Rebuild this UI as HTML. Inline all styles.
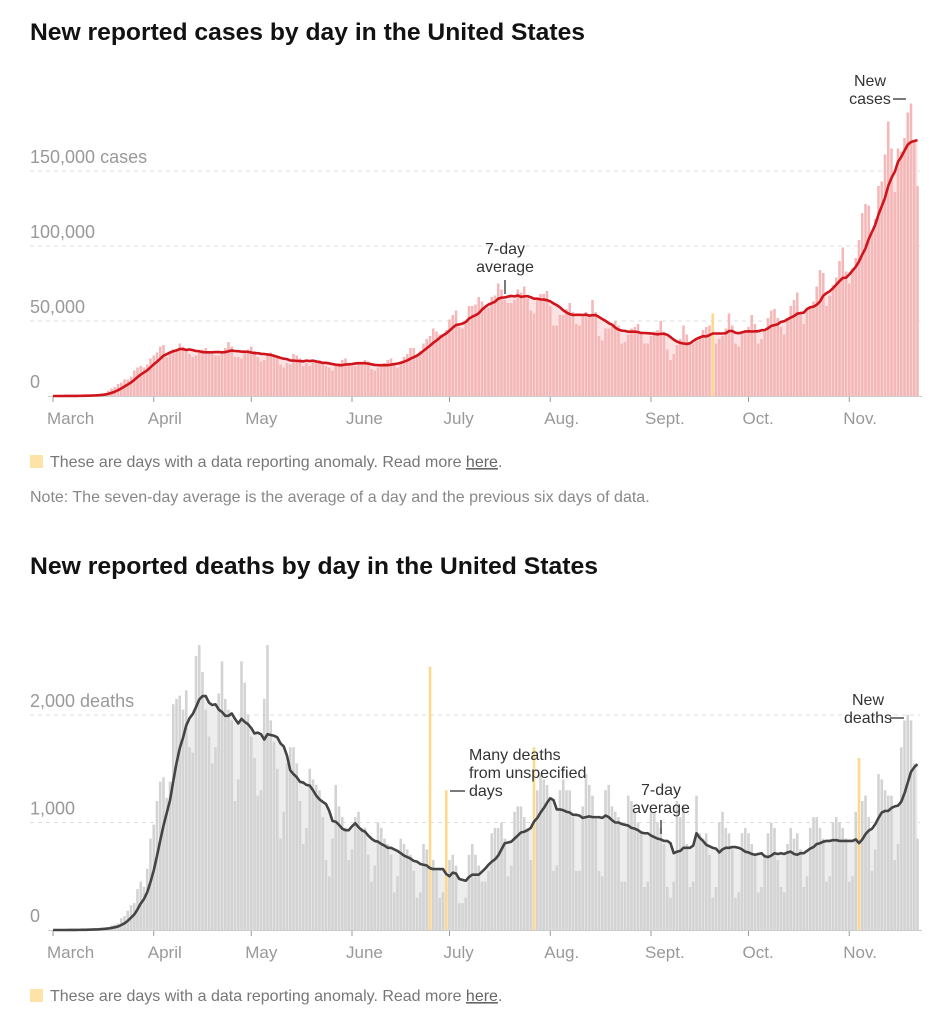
<!DOCTYPE html>
<html><head><meta charset="utf-8">
<style>
html,body{margin:0;padding:0;background:#fff;}
svg{display:block;font-family:"Liberation Sans",sans-serif;}
</style></head>
<body>
<svg id="root" width="935" height="1024" viewBox="0 0 935 1024"></svg>
<script>
// ---- shared axis data ----
const monthNames = ["March","April","May","June","July","Aug.","Sept.","Oct.","Nov."];
const monthStartDays = [0,31,61,92,122,153,184,214,245];

// ---- cases chart data (thousands), day 0 = Mar 1 ----
const caseDaily = [
0,0,0,0,0.1,0.1,0.1,
0.1,0.2,0.3,0.4,0.5,0.6,0.8,
1,1.5,2,3.5,5,6,8,
9,11,11,13,17,19,20,
19,21,25,27,29,33,34,
26,29,31,31,35,33,30,
28,26,27,30,31,32,30,
28,27,27,29,32,36,33,
26,26,25,29,31,33,30,
26,23,24,27,29,28,26,
21,19,22,21,28,27,25,
20,22,20,23,24,24,22,
20,19,17,20,22,24,25,
21,20,20,21,22,24,23,
18,17,19,21,22,24,25,
21,19,23,26,28,32,32,
28,30,35,38,40,45,43,
41,41,44,51,54,57,46,
45,48,60,60,61,66,63,
58,59,66,67,75,71,64,
62,62,64,71,69,73,65,
57,55,64,68,68,70,60,
47,47,54,54,58,62,56,
48,47,53,56,53,64,56,
40,37,45,45,46,50,47,
35,36,41,45,46,48,43,
35,35,40,43,44,50,43,
31,24,28,34,38,47,41,
34,35,38,40,44,46,47,
55,35,38,40,45,55,47,
35,33,42,44,46,54,48,
35,38,43,52,57,58,52,
46,41,52,60,64,69,55,
48,58,60,63,73,84,82,
60,67,74,79,90,99,83,
75,85,92,104,122,128,127,
108,118,140,143,161,183,165,
136,165,163,172,189,195,170,
140];
const caseAnomalyDays = [203];
const caseTicks = [0,50,100,150];
const caseTickLabels = ["0","50,000","100,000","150,000 cases"];

// ---- deaths chart data ----
const deathDaily = [
0,0,0,0,0,1,1,
2,4,3,4,5,8,11,
10,18,22,25,40,50,60,
110,130,180,230,250,380,450,
400,570,850,980,1200,1380,1420,
1230,1380,2100,2150,2180,2050,2230,
1700,1650,2550,2650,2400,2050,1800,
1550,1700,2200,2500,2150,2050,1950,
1200,1400,2500,2300,2000,1800,1600,
1250,1300,2150,2650,1950,1750,1500,
850,1100,1550,1700,1700,1550,1200,
800,950,1500,1400,1350,1300,1050,
650,500,850,1350,1150,1050,950,
650,750,1050,1100,950,950,700,
450,600,1000,950,850,800,700,
350,500,850,800,750,700,550,
300,350,800,750,2450,650,550,
300,350,1300,650,700,600,250,
250,300,700,800,700,600,450,
450,550,900,950,950,1000,850,
500,600,1100,1150,1150,1050,950,
650,1700,1300,1450,1400,1350,1200,
550,600,1300,1400,1300,1300,1050,
550,550,1150,1450,1350,1250,1050,
550,500,1300,1350,1150,1100,1050,
450,450,1250,1200,1100,1000,900,
400,450,1100,1100,1000,950,800,
400,300,450,1200,1050,1150,800,
400,450,1250,900,850,900,700,
300,400,1000,1100,950,900,750,
300,350,900,950,900,800,700,
350,400,700,900,1000,950,650,
400,350,800,950,850,900,750,
400,500,950,1050,1050,950,850,
450,500,1000,1050,1000,950,850,
450,500,1100,1600,1200,1250,1050,
550,750,1450,1400,1300,1250,1250,
650,800,1700,1950,2000,1950,1550,
850];
const deathAnomalyDays = [116,121,148,248];
const deathTicks = [0,1000,2000];
const deathTickLabels = ["0","1,000","2,000 deaths"];

const NS = "http://www.w3.org/2000/svg";
const root = document.getElementById("root");
function mk(tag, attrs, parent, text){
  const e = document.createElementNS(NS, tag);
  for (const k in attrs) e.setAttribute(k, attrs[k]);
  if (text !== undefined) e.textContent = text;
  (parent || root).appendChild(e);
  return e;
}
function avg7(arr, skip){
  return arr.map((v,i)=>{let s=0,n=0;for(let j=Math.max(0,i-6);j<=i;j++){if(skip.indexOf(j)>=0)continue;s+=arr[j];n++;}return n?s/n:0;});
}
const X0 = 53, DX = 3.25;
function xScale(d){ return X0 + d*DX; }

function drawChart(o){
  const g = mk("g", {});
  
  
  const y = v => o.y0 - v*o.k;
  const t = mk("text", {x:30, y:o.titleY, "font-size":24, "font-weight":"bold", fill:"#121212", textLength:o.titleLen, lengthAdjust:"spacingAndGlyphs"}, g, o.title);
  
  
  o.ticks.forEach((v,i)=>{
    if (v>0){
      const l = mk("line", {x1:30, x2:920, y1:y(v), y2:y(v), stroke:"#ddd", "stroke-dasharray":"4,4", "stroke-width":1}, g);
      
      
    }
    const tx = mk("text", {x:30, y:y(v)-8, "font-size":18, fill:"#999"}, g, o.tickLabels[i]);
    
    
  });
  const av = avg7(o.daily, o.anomalies);
  let dpath = "M"+xScale(0)+","+o.y0;
  av.forEach((v,i)=>{ dpath += " L"+xScale(i).toFixed(2)+","+y(v).toFixed(2); });
  dpath += " L"+xScale(av.length-1)+","+o.y0+" Z";
  const area = mk("path", {d:dpath, fill:o.areaColor}, g);
  
  
  o.daily.forEach((v,i)=>{
    const anom = o.anomalies.indexOf(i) >= 0;
    const h = Math.max(0, v*o.k);
    const b = mk("rect", {x:(xScale(i)-1.3).toFixed(2), y:(o.y0-h).toFixed(2), width:2.6, height:h.toFixed(2), fill: anom ? "#fbd98f" : o.barColor}, g);
    
    
  });
  const bl = mk("line", {x1:48, x2:922, y1:o.y0+0.5, y2:o.y0+0.5, stroke:"#ccc", "stroke-width":1}, g);
  
  
  let lp = "";
  av.forEach((v,i)=>{ lp += (i?" L":"M")+xScale(i).toFixed(2)+","+y(v).toFixed(2); });
  const line = mk("path", {d:lp, fill:"none", stroke:o.lineColor, "stroke-width":2.6, "stroke-linejoin":"round"}, g);
  
  
  monthStartDays.forEach((d,i)=>{
    const xx = xScale(d);
    const tk = mk("line", {x1:xx, x2:xx, y1:o.y0+1, y2:o.y0+6, stroke:"#999", "stroke-width":1}, g);
    
    
    const lb = mk("text", {x:xx-6, y:o.y0+28, "font-size":17, fill:"#999"}, g, monthNames[i]);
    
    
  });
  const sw = mk("rect", {x:30, y:o.legendY-12, width:13, height:13, fill:"#fde3a7"}, g);
  
  
  const lt = mk("text", {x:50, y:o.legendY, "font-size":16, fill:"#777"}, g);
  
  
  mk("tspan", {}, lt, "These are days with a data reporting anomaly. Read more ");
  const a = mk("tspan", {"text-decoration":"underline", fill:"#666"}, lt, "here");
  
  
  mk("tspan", {}, lt, ".");
  return g;
}

drawChart({name:"cases-chart", title:"New reported cases by day in the United States", titleY:40, titleLen:555,
  daily:caseDaily, anomalies:caseAnomalyDays, ticks:caseTicks, tickLabels:caseTickLabels,
  y0:396, k:1.5, barColor:"#f5b8b8", areaColor:"#fbe3e3", lineColor:"#d0141c", legendY:467});

const note = mk("text", {x:30, y:502, "font-size":16, fill:"#888"}, root, "Note: The seven-day average is the average of a day and the previous six days of data.");



drawChart({name:"deaths-chart", title:"New reported deaths by day in the United States", titleY:574, titleLen:568,
  daily:deathDaily, anomalies:deathAnomalyDays, ticks:deathTicks, tickLabels:deathTickLabels,
  y0:930, k:0.1075, barColor:"#d3d3d3", areaColor:"#ededed", lineColor:"#444", legendY:1001});

function ann(lines, x, y0, anchor, name){
  const t = mk("text", {x:x, y:y0, "font-size":16, fill:"#333", "text-anchor":anchor});
  
  
  lines.forEach((s,i)=>{ mk("tspan", {x:x, dy: i?18:0}, t, s); });
}
function seg(x1,y1,x2,y2,name){
  const l = mk("line", {x1:x1,y1:y1,x2:x2,y2:y2,stroke:"#333","stroke-width":1.3});
  
  
}
ann(["7-day","average"], 505, 254, "middle", "cases-average-annotation");
seg(505,280,505,294,"cases-average-pointer");
ann(["New","cases"], 870, 86, "middle", "new-cases-annotation");
seg(893,99,906,99,"new-cases-pointer");
ann(["New","deaths"], 868, 705, "middle", "new-deaths-annotation");
seg(890,718,904,718,"new-deaths-pointer");
ann(["Many deaths","from unspecified","days"], 469, 760, "start", "unspecified-days-annotation");
seg(450,791,465,791,"unspecified-days-pointer");
ann(["7-day","average"], 661, 795, "middle", "deaths-average-annotation");
seg(661,820,661,834,"deaths-average-pointer");
</script>
</body></html>
